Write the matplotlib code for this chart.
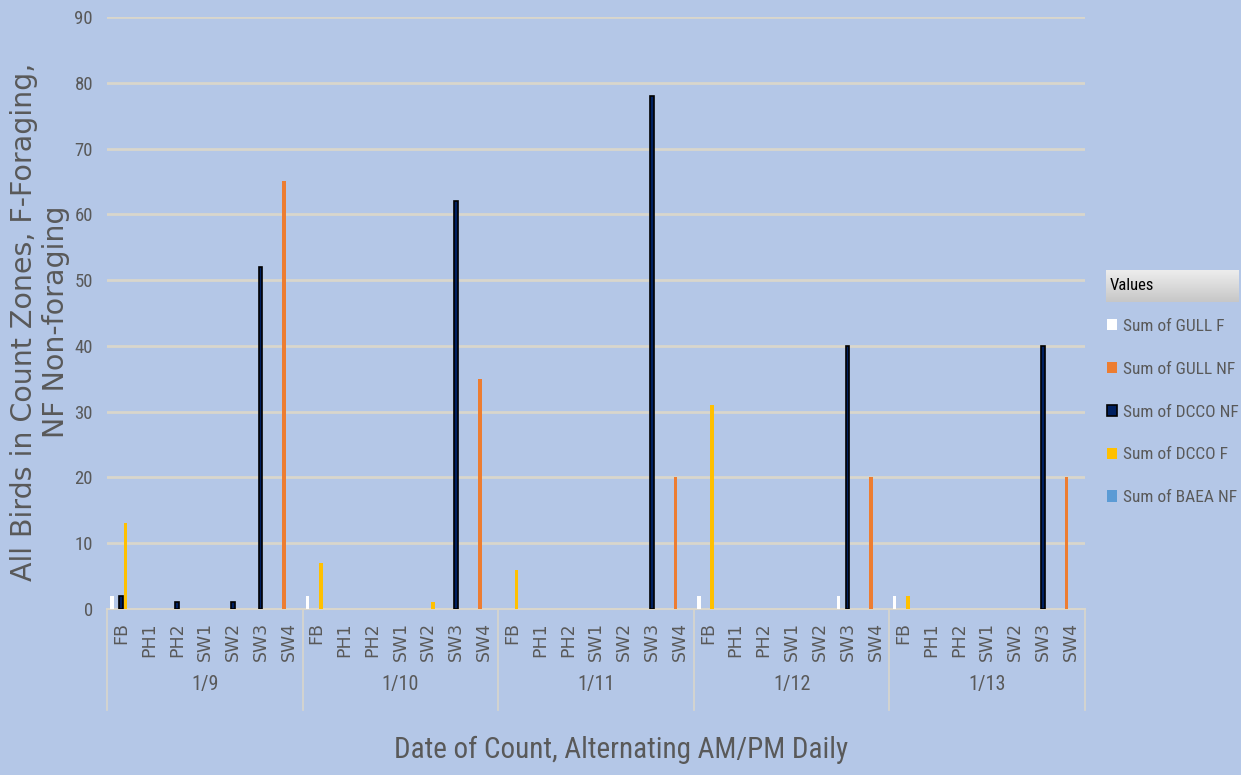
import numpy as np
import matplotlib
matplotlib.use('Agg')
import matplotlib.pyplot as plt
import matplotlib.transforms as mtransforms
from matplotlib import font_manager

names = set(f.name for f in font_manager.fontManager.ttflist)
narrow = None
for cand in ['Liberation Sans Narrow', 'Roboto Condensed', 'Open Sans Condensed',
             'DejaVu Sans Condensed', 'Noto Sans Condensed']:
    if cand in names:
        narrow = cand
        break
cond = [f for f in font_manager.fontManager.ttflist
        if f.name == 'DejaVu Sans' and f.stretch == 'condensed']
if narrow is None:
    narrow = 'DejaVu Sans'
stretch = 'condensed' if (narrow == 'DejaVu Sans' and cond) else 'normal'
plt.rcParams['font.family'] = [narrow, 'DejaVu Sans']
plt.rcParams['font.stretch'] = stretch

dates = ['1/9', '1/10', '1/11', '1/12', '1/13']
zones = ['FB', 'PH1', 'PH2', 'SW1', 'SW2', 'SW3', 'SW4']

# values per zone, one row per date (FB, PH1, PH2, SW1, SW2, SW3, SW4)
gull_f = [[2, 0, 0, 0, 0, 0, 0],
          [2, 0, 0, 0, 0, 0, 0],
          [0, 0, 0, 0, 0, 0, 0],
          [2, 0, 0, 0, 0, 2, 0],
          [2, 0, 0, 0, 0, 0, 0]]
gull_nf = [[0, 0, 0, 0, 0, 0, 65],
           [0, 0, 0, 0, 0, 0, 35],
           [0, 0, 0, 0, 0, 0, 20],
           [0, 0, 0, 0, 0, 0, 20],
           [0, 0, 0, 0, 0, 0, 20]]
dcco_nf = [[2, 0, 1, 0, 1, 52, 0],
           [0, 0, 0, 0, 0, 62, 0],
           [0, 0, 0, 0, 0, 78, 0],
           [0, 0, 0, 0, 0, 40, 0],
           [0, 0, 0, 0, 0, 40, 0]]
dcco_f = [[13, 0, 0, 0, 0, 0, 0],
          [7, 0, 0, 0, 1, 0, 0],
          [6, 0, 0, 0, 0, 0, 0],
          [31, 0, 0, 0, 0, 0, 0],
          [2, 0, 0, 0, 0, 0, 0]]
baea_nf = [[0, 0, 0, 0, 0, 0, 0],
           [0, 0, 0, 0, 0, 0, 0],
           [0, 0, 0, 0, 0, 0, 0],
           [0, 0, 0, 0, 0, 0, 0],
           [0, 0, 0, 0, 0, 0, 0]]

series = [('Sum of GULL F', gull_f, '#FFFFFF', '#FFFFFF'),
          ('Sum of GULL NF', gull_nf, '#ED7D31', '#ED7D31'),
          ('Sum of DCCO NF', dcco_nf, '#002060', '#000000'),
          ('Sum of DCCO F', dcco_f, '#FFC000', '#FFC000'),
          ('Sum of BAEA NF', baea_nf, '#5B9BD5', '#5B9BD5')]

bg = '#B4C7E7'
grid = '#D9D6CC'
txt = '#595959'

fig = plt.figure(figsize=(12.41, 7.75), dpi=100, facecolor=bg)
ax = fig.add_axes([0.0862, 0.2142, 0.7881, 0.7638])
ax.set_facecolor(bg)

n = len(dates) * len(zones)
x = np.arange(n)
slot = 0.16
w = 0.13
handles = []
for i, (name, vals, col, edge) in enumerate(series):
    v = np.array(vals, dtype=float).flatten()
    v[v == 0] = np.nan  # empty cells draw nothing
    lw = 1.2 if edge != col else 0
    b = ax.bar(x + (i - 2) * slot, v, width=w, color=col, edgecolor=edge,
               linewidth=lw, label=name, zorder=3)
    handles.append(b)

ax.set_xlim(-0.5, n - 0.5)
ax.set_ylim(0, 90)
ax.set_yticks(np.arange(0, 91, 10))
ax.yaxis.grid(True, color=grid, linewidth=2, zorder=0)
for s in ['top', 'right', 'left']:
    ax.spines[s].set_visible(False)
ax.spines['bottom'].set_color(grid)
ax.spines['bottom'].set_linewidth(1.5)
ax.tick_params(axis='y', length=0, labelsize=13.5, labelcolor=txt, pad=10)
ax.tick_params(axis='x', length=0)
ax.set_xticks(x)
ax.set_xticklabels([])

trans = mtransforms.blended_transform_factory(ax.transData, ax.transAxes)
for d in range(len(dates)):
    for z in range(len(zones)):
        ax.text(d * len(zones) + z, -0.022, zones[z], rotation=90, ha='center',
                va='top', fontsize=12.5, color=txt, transform=trans,
                family=['DejaVu Sans'], stretch='normal')
    ax.text(d * len(zones) + (len(zones) - 1) / 2, -0.128, dates[d],
            ha='center', va='center', fontsize=14.5, color=txt, transform=trans)
for d in range(len(dates) + 1):
    xs = d * len(zones) - 0.5
    ax.plot([xs, xs], [0, -0.17], color=grid, linewidth=1.2,
            transform=trans, clip_on=False)

fig.text(621 / 1241, 1 - 750 / 775, 'Date of Count, Alternating AM/PM Daily',
         ha='center', va='center', fontsize=21, color=txt)
fig.text(40 / 1241, 1 - 322 / 775,
         'All Birds in Count Zones, F-Foraging,\nNF Non-foraging',
         rotation=90, ha='center', va='center', fontsize=20.5, color=txt,
         family=['DejaVu Sans'], stretch='normal', linespacing=1.15,
         multialignment='center')

# legend header with gradient
hax = fig.add_axes([1106 / 1241, 1 - 302 / 775, 133 / 1241, 32 / 775])
grad = np.linspace(0.93, 0.78, 50).reshape(-1, 1)
hax.imshow(np.dstack([grad, grad, grad]), aspect='auto', extent=[0, 1, 0, 1])
hax.set_axis_off()
hax.text(0.03, 0.5, 'Values', va='center', ha='left', fontsize=12,
         color='#000000')

fig.legend(handles=handles, loc='upper left',
           bbox_to_anchor=(1107 / 1241, 1 - 319 / 775), frameon=False,
           fontsize=12.5, labelcolor=txt, labelspacing=1.6,
           handlelength=0.6, handleheight=0.6, handletextpad=0.3,
           borderaxespad=0, borderpad=0)

fig.savefig('out.png', dpi=100, facecolor=bg)
